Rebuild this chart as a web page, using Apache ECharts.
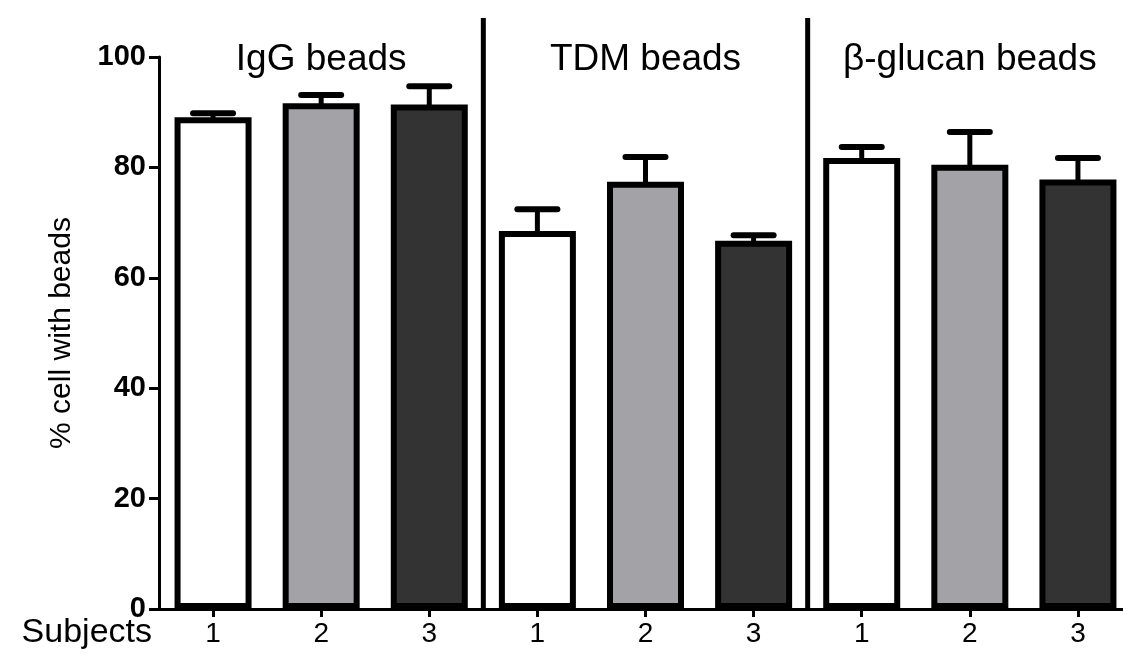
<!DOCTYPE html>
<html>
<head>
<meta charset="utf-8">
<script src="https://cdn.jsdelivr.net/npm/echarts@6/dist/echarts.min.js"></script>
<style>
html,body{margin:0;padding:0;background:#fff;overflow:hidden;width:1123px;height:655px;}
#chart{width:1132px;height:655px;}
</style>
</head>
<body>
<div id="chart"></div>
<script>
const categories = ['1','2','3','1','2','3','1','2','3'];
const groupTitles = ['IgG beads','TDM beads','\u03B2-glucan beads'];
const means = [89.1, 91.6, 91.4, 68.5, 77.4, 66.7, 81.7, 80.5, 77.8];
const errors = [0.7, 1.5, 3.3, 3.9, 4.5, 1.0, 2.0, 5.9, 3.9];
const subjectFills = ['#ffffff', '#a3a2a7', '#333333'];
const yMin = 0, yMax = 100, yStep = 20;
const yAxisName = '% cell with beads';
const xAxisTitle = 'Subjects';

const FONT = '"Liberation Sans", Arial, Helvetica, sans-serif';

const chart = echarts.init(document.getElementById('chart'), null, {renderer:'canvas'});

const barData = means.map((v, i) => ({value: v, itemStyle: {color: subjectFills[i % 3]}}));
const errData = means.map((v, i) => [i, v, errors[i]]);
const groupData = groupTitles.map((t, g) => [g * 3 + 1, 0, g]);

const option = {
  animation: false,
  backgroundColor: '#ffffff',
  grid: {left: 159, top: 57, right: 0, bottom: 46, containLabel: false},
  xAxis: {
    type: 'category',
    data: categories,
    boundaryGap: true,
    axisLine: {show: true, lineStyle: {color: '#000', width: 3}},
    axisTick: {show: true, alignWithLabel: true, length: 8, lineStyle: {color: '#000', width: 3}},
    axisLabel: {color: '#000', fontSize: 28, fontFamily: FONT, margin: 11},
    splitLine: {show: false}
  },
  yAxis: {
    type: 'value',
    min: yMin, max: yMax, interval: yStep,
    name: yAxisName,
    nameLocation: 'middle',
    nameRotate: 90,
    nameGap: 82,
    nameTextStyle: {color: '#000', fontSize: 30, fontFamily: FONT},
    axisLine: {show: true, lineStyle: {color: '#000', width: 3}},
    axisTick: {show: true, length: 10, lineStyle: {color: '#000', width: 3}},
    axisLabel: {color: '#000', fontSize: 29, fontWeight: 'bold', fontFamily: FONT, margin: 13},
    splitLine: {show: false}
  },
  graphic: [{
    type: 'text',
    right: 1132 - 152,
    top: 616,
    style: {text: xAxisTitle, fill: '#000', fontSize: 34, fontFamily: FONT}
  }],
  series: [
    {
      type: 'custom',
      name: 'err',
      data: errData,
      encode: {x: 0, y: 1},
      z: 1,
      renderItem: function (params, api) {
        const i = api.value(0);
        const base = api.coord([i, api.value(1)]);
        const top = api.coord([i, api.value(1) + api.value(2)]);
        const capHalf = api.size([1, 0])[0] * 0.185;
        return {
          type: 'group',
          children: [
            {type: 'line', shape: {x1: base[0], y1: base[1] + 4, x2: top[0], y2: top[1]},
             style: {stroke: '#000', lineWidth: 5}},
            {type: 'line', shape: {x1: top[0] - capHalf, y1: top[1], x2: top[0] + capHalf, y2: top[1]},
             style: {stroke: '#000', lineWidth: 6, lineCap: 'round'}}
          ]
        };
      }
    },
    {
      type: 'bar',
      data: barData,
      barWidth: 77,
      z: 2,
      itemStyle: {borderColor: '#000', borderWidth: 6}
    },
    {
      type: 'custom',
      name: 'groups',
      data: groupData,
      encode: {x: 0, y: 1},
      clip: false,
      z: 3,
      renderItem: function (params, api) {
        const c = api.value(0);
        const g = api.value(2);
        const pt = api.coord([c, 0]);
        const band = api.size([1, 0])[0];
        const cs = params.coordSys;
        const children = [{
          type: 'text',
          style: {text: groupTitles[g], x: pt[0], y: cs.y + 3, align: 'center', verticalAlign: 'middle',
                  fill: '#000', fontSize: 37, fontFamily: FONT}
        }];
        if (g < groupTitles.length - 1) {
          const sx = api.coord([c + 1, 0])[0] + band / 2;
          children.push({type: 'line', shape: {x1: sx, y1: cs.y - 39, x2: sx, y2: pt[1]},
                         style: {stroke: '#000', lineWidth: 5}});
        }
        return {type: 'group', children: children};
      }
    }
  ]
};
chart.setOption(option);
</script>
</body>
</html>
